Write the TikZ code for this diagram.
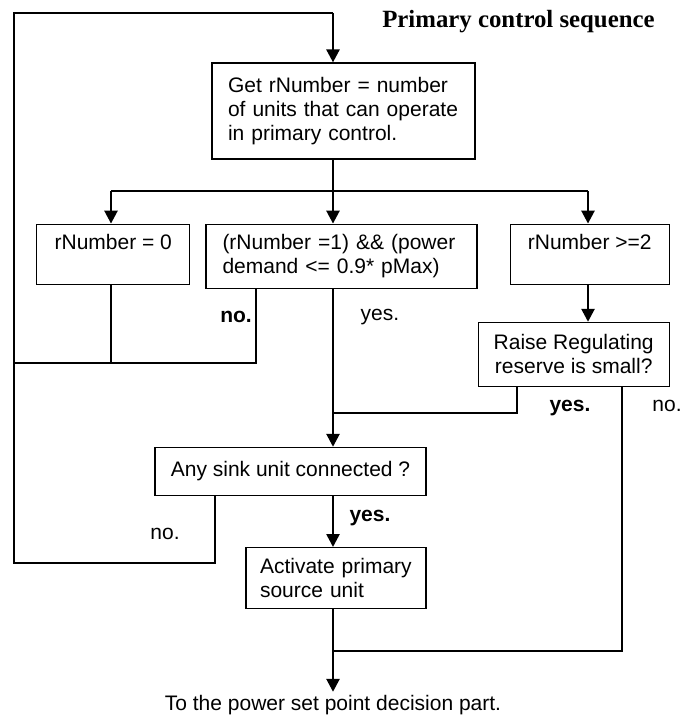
\documentclass[tikz,border=0pt]{standalone}
\usepackage{fontspec}
\setmainfont{Liberation Sans}
\newfontfamily\titlefont{Liberation Serif}
\usepackage{tikz}
\usetikzlibrary{arrows.meta, positioning}

\begin{document}
\begin{tikzpicture}[
    x=0.5pt, y=-0.5pt,
    font=\fontsize{10.5}{12}\selectfont,
    box/.style={rectangle, draw, line width=0.6pt, inner sep=0pt, align=center},
    leftbox/.style={box, align=left, inner xsep=8pt},
    line/.style={line width=0.6pt},
    thickline/.style={line width=1.3pt},
    arrow/.style={-{Triangle[length=6.5pt, width=6.5pt]}, line width=1.3pt},
    lbl/.style={inner sep=1pt}
]
\useasboundingbox (0,0) rectangle (683,722);

\node[font=\titlefont\bfseries\fontsize{12.4}{14}\selectfont, anchor=east, inner sep=0pt] (title) at (655,22) {Primary control sequence};

\node[leftbox, minimum width=131.5pt, minimum height=48pt, text width=115.5pt] (get) at (343.5,111) {Get rNumber = number\\of units that can operate\\in primary control.};
\node[leftbox, minimum width=135.5pt, minimum height=32pt, text width=119pt, below=32pt of get.south west, anchor=north west, xshift=-3pt] (cond) {(rNumber =1) \&\& (power\\demand <= 0.9* pMax)};
\node[box, minimum width=76.5pt, minimum height=30pt, left=7.5pt of cond.north west, anchor=north east] (zero) {rNumber = 0\\\mbox{}};
\node[box, minimum width=79.5pt, minimum height=30pt, right=16pt of cond.north east, anchor=north west] (ge2) {rNumber >=2\\\mbox{}};
\node[box, minimum width=95.5pt, minimum height=32pt, below=18.5pt of ge2.south east, anchor=north east] (raise) {Raise Regulating\\reserve is small?};
\node[box, minimum width=135.5pt, minimum height=24pt, below=79pt of cond.south west, anchor=north west, xshift=-25.5pt] (sink) {Any sink unit connected ?};
\node[leftbox, inner xsep=7pt, minimum width=90pt, minimum height=30.5pt, text width=76pt, below=25.5pt of sink.south east, anchor=north east] (act) {\hbox{Activate primary}\\source unit};
\node[inner ysep=1.5pt] (out) at (333,705) {To the power set point decision part.};

\node[lbl, font=\bfseries\fontsize{10.5}{12}\selectfont] (noCond) at (236,317) {no.};
\node[lbl] (yesCond) at (380,317) {yes.};
\node[lbl, font=\bfseries\fontsize{10.5}{12}\selectfont] (yesRaise) at (570,408) {yes.};
\node[lbl] (noRaise) at (667,406) {no.};
\node[lbl] (noSink) at (165,534) {no.};
\node[lbl, font=\bfseries\fontsize{10.5}{12}\selectfont] (yesSink) at (370,518) {yes.};

\coordinate (loopTL) at (14,13);
\coordinate (loopTR) at (333,13);
\coordinate (loopBL) at (14,563);
\coordinate (sinkNo) at (215,563);
\coordinate (brL) at (111,191);
\coordinate (brM) at (333,191);
\coordinate (brR) at (588,191);
\coordinate (joinL) at (14,363);
\coordinate (condNo) at (256,363);
\coordinate (joinM) at (333,413);
\coordinate (raiseYes) at (517,413);
\coordinate (joinB) at (333,651);
\coordinate (raiseNo) at (622,651);

\draw[line] (sink.south -| sinkNo) -- (sinkNo) -- (loopBL) -- (loopTL) -- (loopTR);
\draw[arrow] (loopTR) -- (get.north -| loopTR);
\draw[thickline] (get.south -| brM) -- (brM);
\draw[thickline] (brL) -- (brR);
\draw[arrow] (brL) -- (zero.north -| brL);
\draw[arrow] (brM) -- (cond.north -| brM);
\draw[arrow] (brR) -- (ge2.north -| brR);
\draw[line] (zero.south -| brL) -- (brL |- joinL);
\draw[line] (cond.south -| condNo) -- (condNo) -- (joinL);
\draw[arrow] (ge2.south -| brR) -- (raise.north -| brR);
\draw[line] (cond.south -| joinM) -- (joinM);
\draw[line] (raise.south -| raiseYes) -- (raiseYes) -- (joinM);
\draw[arrow] (joinM) -- (sink.north -| joinM);
\draw[arrow] (sink.south -| joinM) -- (act.north -| joinM);
\draw[line] (raise.south -| raiseNo) -- (raiseNo) -- (joinB);
\draw[arrow] (act.south -| joinB) -- (out.north -| joinB);
\end{tikzpicture}
\end{document}
